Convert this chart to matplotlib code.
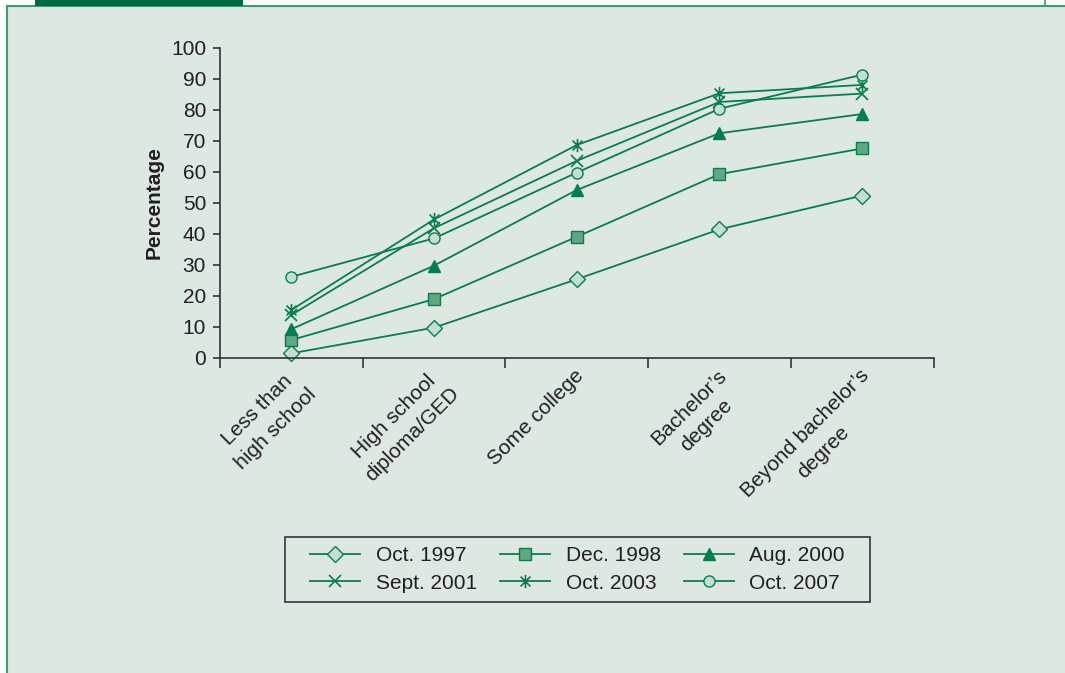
import numpy as np
import matplotlib.pyplot as plt
import matplotlib.transforms as mtransforms
from matplotlib.path import Path
from matplotlib.patches import Rectangle

plt.rcParams['font.family'] = ['Liberation Sans', 'DejaVu Sans']

# データ
categories = ['Less than\nhigh school', 'High school\ndiploma/GED', 'Some college',
              'Bachelor\u2019s\ndegree', 'Beyond bachelor\u2019s\ndegree']
oct_1997 = [1.4, 9.7, 25.3, 41.4, 52.3]
dec_1998 = [5.7, 18.9, 39.0, 59.2, 67.5]
aug_2000 = [9.2, 29.7, 54.1, 72.4, 78.6]
sept_2001 = [13.8, 41.8, 63.5, 82.5, 85.2]
oct_2003 = [15.4, 44.6, 68.6, 85.3, 88.0]
oct_2007 = [26.1, 38.5, 59.7, 80.3, 91.3]
series_names = ['Oct. 1997', 'Dec. 1998', 'Aug. 2000', 'Sept. 2001', 'Oct. 2003', 'Oct. 2007']

line_col = '#0b7d4b'
light = '#c3dfcf'
text_col = '#231f20'
fs = 15

# アスタリスク型マーカー（縦線 + X）
asterisk = Path([(0, -1), (0, 1), (-0.75, -0.75), (0.75, 0.75), (-0.75, 0.75), (0.75, -0.75)],
                [Path.MOVETO, Path.LINETO, Path.MOVETO, Path.LINETO, Path.MOVETO, Path.LINETO])

styles = [
    dict(marker='D', ms=8, mfc=light),
    dict(marker='s', ms=8, mfc='#5fa883'),
    dict(marker='^', ms=9, mfc='#00814b'),
    dict(marker='x', ms=8.5, mfc='none', mew=1.2),
    dict(marker=asterisk, ms=9.5, mfc='none', mew=1.2),
    dict(marker='o', ms=8, mfc=light),
]
values = [oct_1997, dec_1998, aug_2000, sept_2001, oct_2003, oct_2007]

fig = plt.figure(figsize=(10.65, 6.73), dpi=100)
fig.patch.set_facecolor('white')

# 背景パネル
W, H = 1065, 673
fig.patches.append(Rectangle((7 / W, -0.1), 1.2, 1 - 6 / H + 0.1, transform=fig.transFigure,
                             facecolor='#dce8e1', edgecolor='#3f9a70', linewidth=1.5, zorder=-10))
fig.patches.append(Rectangle((35 / W, 1 - 6 / H), 208 / W, 6 / H, transform=fig.transFigure,
                             facecolor='#006b3f', edgecolor='none', zorder=-9))
fig.add_artist(plt.Line2D([1045 / W, 1045 / W], [1 - 6 / H, 1], transform=fig.transFigure,
                          color='#3f9a70', lw=1.2, zorder=-9))

ax = fig.add_axes([220 / W, 1 - 357.7 / H, (933.5 - 220) / W, 310 / H])
ax.set_facecolor('none')

x = np.arange(len(categories))
handles = []
for name, vals, st in zip(series_names, values, styles):
    h, = ax.plot(x, vals, color=line_col, lw=1.3, mec=line_col, label=name, clip_on=False, **st)
    handles.append(h)

ax.set_xlim(-0.5, len(categories) - 0.5)
ax.set_ylim(0, 100)
ax.set_yticks(np.arange(0, 101, 10))
ax.tick_params(axis='y', labelsize=fs, colors='#333333', labelcolor=text_col, length=5, width=1.2, pad=5)

ax.set_xticks(x)
ax.set_xticklabels(categories, rotation=45, ha='right', va='top', rotation_mode='anchor',
                   multialignment='center', fontsize=fs, color=text_col, linespacing=1.45)
ax.tick_params(axis='x', which='major', length=0, pad=6)
shift = mtransforms.ScaledTranslation(-3 / 100, 0, fig.dpi_scale_trans)
for lbl in ax.get_xticklabels():
    lbl.set_transform(lbl.get_transform() + shift)
ax.set_xticks(np.arange(-0.5, len(categories), 1), minor=True)
ax.tick_params(axis='x', which='minor', length=7, width=1.2, colors='#333333', direction='out')

for s in ['top', 'right']:
    ax.spines[s].set_visible(False)
for s in ['left', 'bottom']:
    ax.spines[s].set_color('#333333')
    ax.spines[s].set_linewidth(1.2)

ax.set_ylabel('Percentage', fontsize=fs, fontweight='bold', color=text_col, labelpad=5)

# 凡例は行方向に並べる
order = [0, 3, 1, 4, 2, 5]
leg = fig.legend([handles[i] for i in order], [series_names[i] for i in order],
                 loc='center', bbox_to_anchor=(577.5 / W, 1 - 569.5 / H), ncol=3, fontsize=fs,
                 frameon=False, handlelength=2.4, columnspacing=1.1, handletextpad=0.75,
                 labelspacing=0.4, borderpad=0.5, labelcolor=text_col)
# 凡例の枠
fig.patches.append(Rectangle((285 / W, 1 - 602 / H), 585 / W, 65 / H, transform=fig.transFigure,
                             facecolor='none', edgecolor='#333333', linewidth=1.2))

fig.savefig('out.png', dpi=100)
